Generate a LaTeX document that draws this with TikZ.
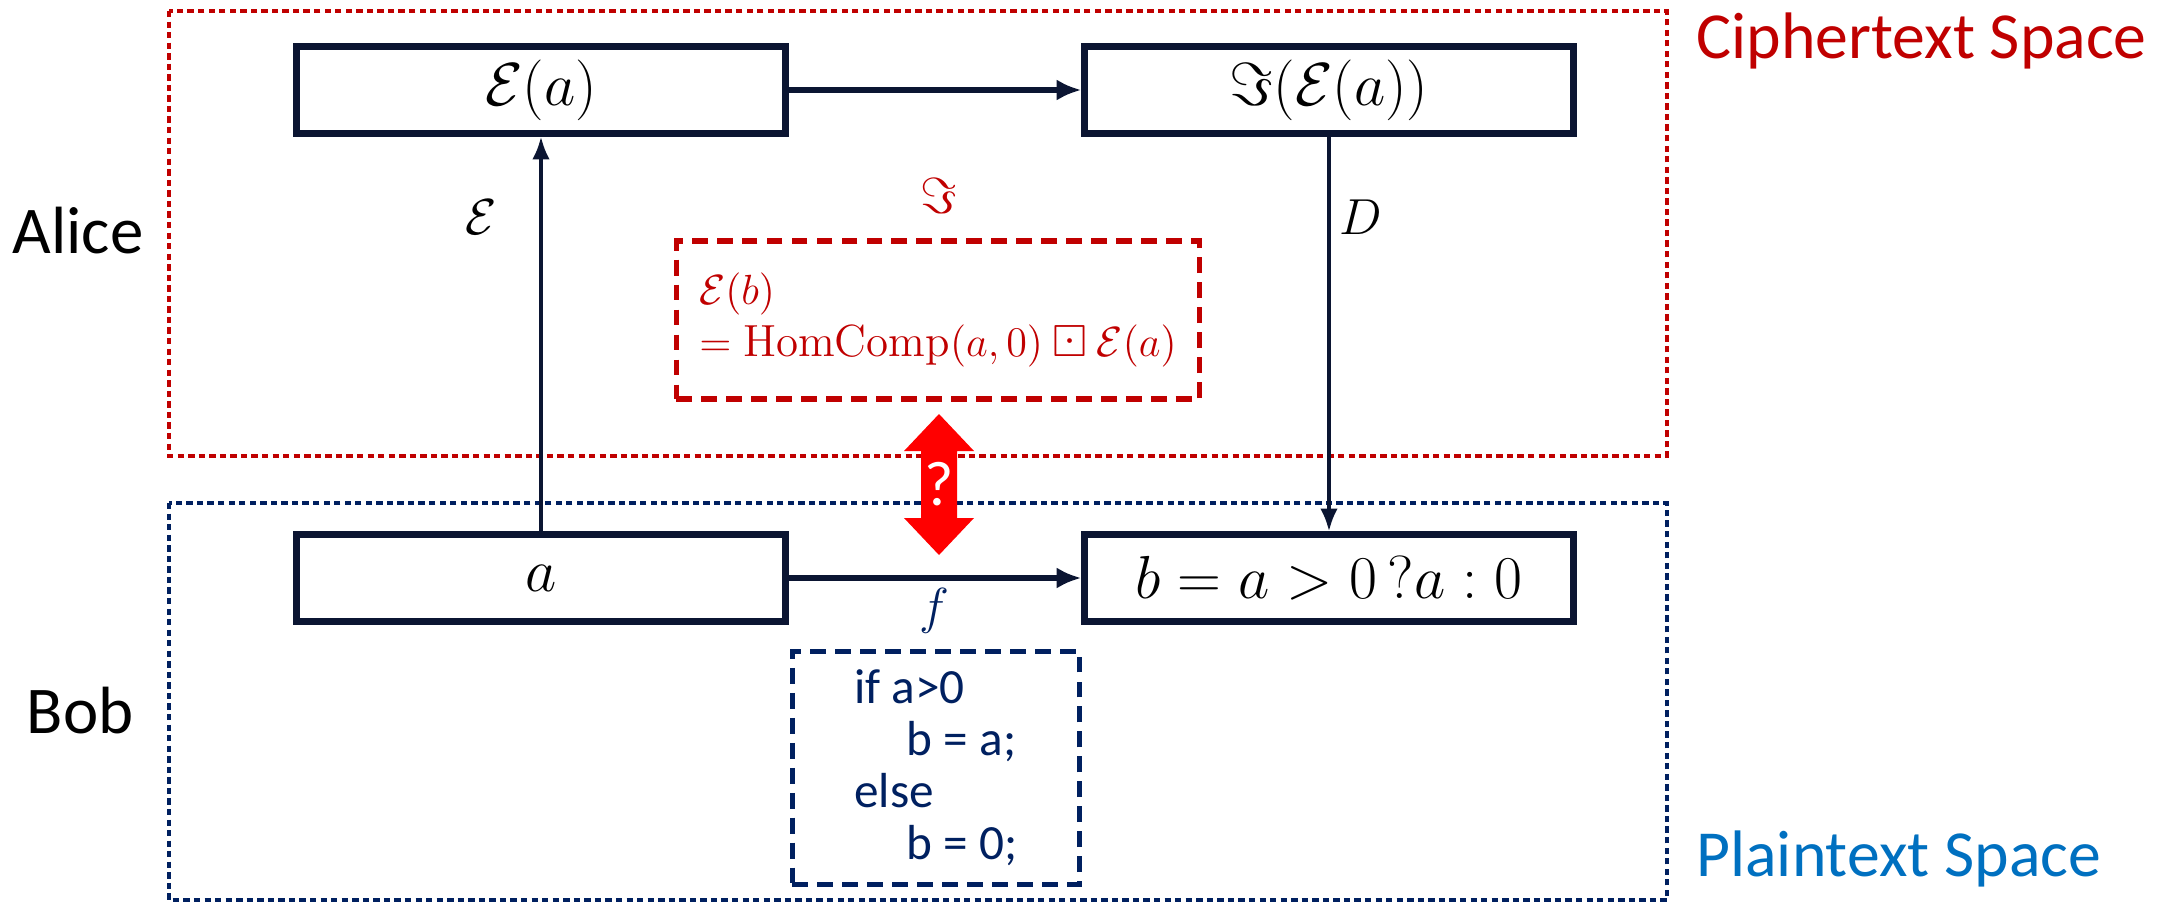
\documentclass[tikz,border=0pt]{standalone}
\usepackage{amsmath,amssymb}
\usepackage{fontspec}
\usepackage{xcolor}
\usepackage{tikz}
\usetikzlibrary{arrows.meta,calc,positioning}
\newfontfamily\labelfont{Carlito}
\definecolor{navy}{HTML}{0B1532}
\definecolor{codeblue}{HTML}{002060}
\definecolor{cipherred}{HTML}{C00000}
\definecolor{plainblue}{HTML}{0070C0}

\begin{document}
\begin{tikzpicture}[x=0.01cm,y=-0.01cm,
  valbox/.style={draw=navy,line width=2pt,minimum width=4.88cm,minimum height=0.86cm,inner sep=0pt,font=\fontsize{18}{20}\selectfont},
  flow/.style={draw=navy,line width=1.6pt,-{Latex[length=7pt,width=6pt]}},
  link/.style={draw=navy,line width=1.1pt,-{Latex[length=6.5pt,width=5pt]}},
  zone/.style={line width=1.3pt,dash pattern=on 1.8pt off 1.2pt},
  fnbox/.style={line width=1.6pt,dash pattern=on 4.5pt off 2.6pt,align=left,inner sep=0pt},
  party/.style={font=\labelfont\fontsize{19}{22}\selectfont},
  spacelabel/.style={anchor=west,font=\labelfont\fontsize{18.7}{22}\selectfont},
  maplabel/.style={font=\fontsize{15}{17}\selectfont}]
  \useasboundingbox (0,0) rectangle (2166,903);

  % the two spaces
  \draw[zone,cipherred] (169,11) rectangle (1667,456);
  \draw[zone,codeblue] (169,503) rectangle (1667,900);
  \node[spacelabel,text=cipherred] (ctspace) at (1684,41) {Ciphertext Space};
  \node[spacelabel,text=plainblue] (ptspace) at (1684,859) {Plaintext Space};
  \node[party] (alice) at (78,231) {Alice};
  \node[party] (bob) at (80,711) {Bob};

  % values
  \node[valbox] (ea) at (541,90) {$\mathcal{E}(a)$};
  \node[valbox] (iea) at (1329,90) {$\Im(\mathcal{E}(a))$};
  \node[valbox] (pa) at (541,578) {$a$};
  \node[valbox] (pb) at (1329,578) {$b = a > 0\,?a : 0$};

  \draw[flow] (ea) -- (iea);
  \draw[flow] (pa) -- (pb);
  \draw[link] (pa) -- (ea);
  \draw[link] (iea) -- (pb);

  \node[maplabel] (enc) at (481,217) {$\mathcal{E}$};
  \node[maplabel] (dec) at (1361,217) {$D$};
  \node[maplabel,text=cipherred] (hom) at (939,196) {$\Im$};
  \node[maplabel,text=codeblue] (fn) at (934,611) {$f$};

  % what each side computes
  \node[fnbox,draw=cipherred,text=cipherred,minimum width=5.23cm,minimum height=1.58cm,
    font=\fontsize{12.8}{15}\selectfont] (hc) at (938,320)
    {$\mathcal{E}(b)$\\$= \mathrm{HomComp}(a,0) \boxdot \mathcal{E}(a)$};
  \node[fnbox,draw=codeblue,text=codeblue,minimum width=2.87cm,minimum height=2.33cm,
    font=\labelfont\fontsize{14}{14.8}\selectfont] (code) at (936,768)
    {if a>0\\\hspace*{15pt}b = a;\\else\\\hspace*{15pt}b = 0;};

  % same result?
  \fill[red] (939,414) -- (974,451) -- (957,451) -- (957,518) -- (974,518) -- (939,555)
    -- (904,518) -- (921,518) -- (921,451) -- (904,451) -- cycle;
  \node[text=white,font=\labelfont\fontsize{18}{20}\selectfont] (qmark) at (939,484) {?};
\end{tikzpicture}
\end{document}
